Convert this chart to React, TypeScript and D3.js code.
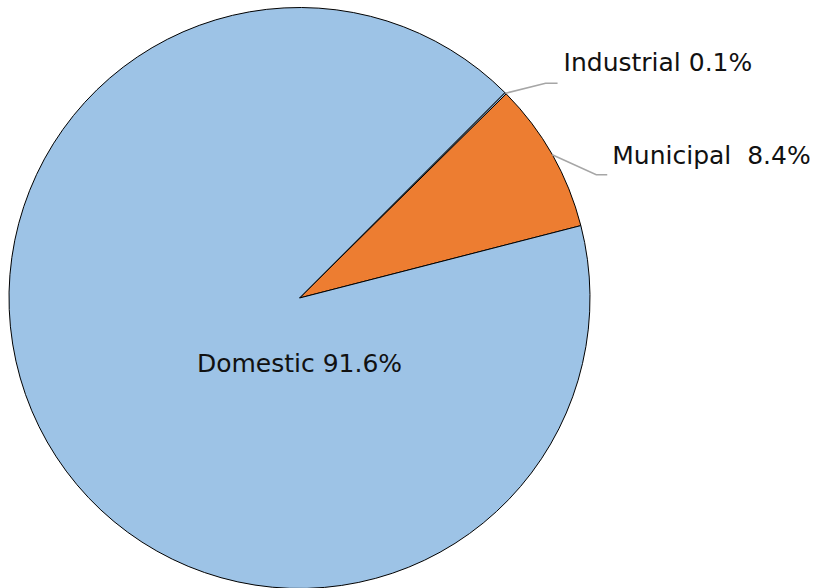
import React from "react";
import * as d3 from "d3";

const categories = ["Industrial", "Municipal", "Domestic"];
const values = [0.1, 8.4, 91.6];
const labels = ["Industrial 0.1%", "Municipal  8.4%", "Domestic 91.6%"];
const colors = ["#9DC3E6", "#ED7D31", "#9DC3E6"];

const W = 815;
const H = 588;
const cx = 299.5;
const cy = 298;
const R = 290.5;
const FONT = "'DejaVu Sans', sans-serif";
const FS = 25;

export default function App() {
  const data = categories.map((c, i) => ({ c, v: values[i], label: labels[i], color: colors[i] }));
  const pie = d3
    .pie<any>()
    .sort(null)
    .value((d) => d.v)
    .startAngle(Math.PI / 4)
    .endAngle(Math.PI / 4 + 2 * Math.PI);
  const arcs = pie(data);
  const arc = d3.arc<any>().innerRadius(0).outerRadius(R);

  const edge = (a: any) => {
    const m = (a.startAngle + a.endAngle) / 2;
    return [R * Math.sin(m), -R * Math.cos(m)];
  };

  const leaders: Record<string, { elbow: [number, number]; end: number; gap: number; ty: number }> = {
    Industrial: { elbow: [40, -10], end: 12, gap: 6, ty: -12.5 },
    Municipal: { elbow: [44, 20], end: 11, gap: 5, ty: -10.5 },
  };

  return (
    <svg width={W} height={H} style={{ position: "absolute", left: 0, top: 0 }}>
      <rect width={W} height={H} fill="#fff" />
      <g transform={`translate(${cx},${cy})`}>
        {arcs.map((a, i) => (
          <path key={i} d={arc(a) as string} fill={a.data.color} stroke="#000" strokeWidth={1} strokeLinejoin="round" />
        ))}
        {arcs.map((a, i) => {
          const L = leaders[a.data.c];
          if (!L) return null;
          const [ex, ey] = edge(a);
          const bx = ex + L.elbow[0];
          const by = ey + L.elbow[1];
          return (
            <g key={"l" + i}>
              <polyline
                points={`${ex},${ey} ${bx},${by} ${bx + L.end},${by}`}
                fill="none"
                stroke="#a6a6a6"
                strokeWidth={1.5}
              />
              <text
                x={bx + L.end + L.gap}
                y={by + L.ty}
                fontFamily={FONT}
                fontSize={FS}
                fill="#111"
                style={{ whiteSpace: "pre" }}
              >
                {a.data.label}
              </text>
            </g>
          );
        })}
        {arcs
          .filter((a) => a.data.c === "Domestic")
          .map((a, i) => (
            <text key={"d" + i} x={0} y={74} textAnchor="middle" fontFamily={FONT} fontSize={FS} fill="#111">
              {a.data.label}
            </text>
          ))}
      </g>
    </svg>
  );
}
